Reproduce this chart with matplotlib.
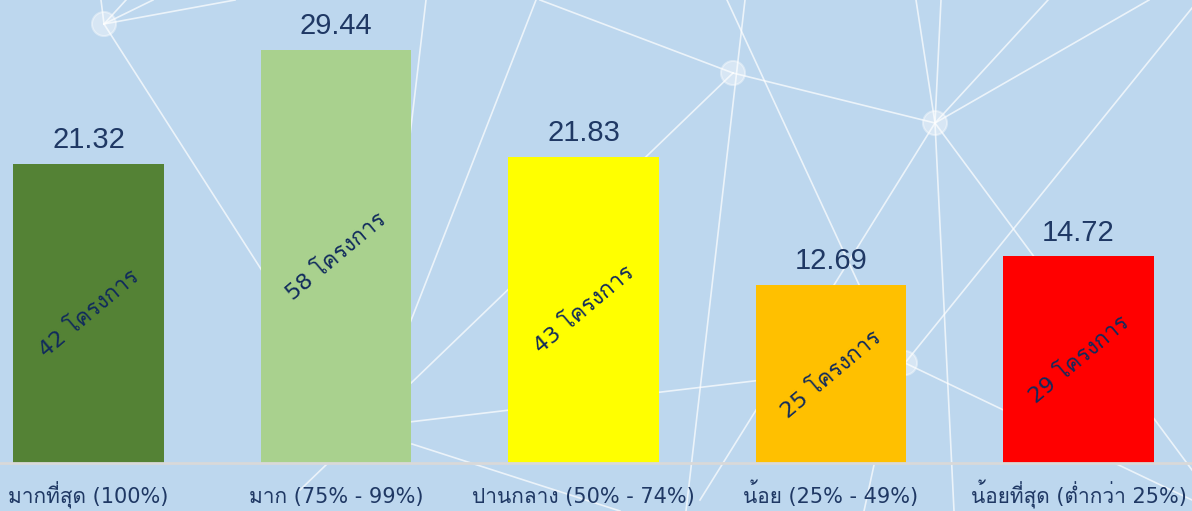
import matplotlib
matplotlib.use("Agg")
import matplotlib.pyplot as plt
from matplotlib import font_manager
from matplotlib.ft2font import FT2Font
from matplotlib.lines import Line2D
from matplotlib.patches import Circle

# data
categories = ["มากที่สุด (100%)", "มาก (75% - 99%)", "ปานกลาง (50% - 74%)",
              "น้อย (25% - 49%)", "น้อยที่สุด (ต่ำกว่า 25%)"]
values = [21.32, 29.44, 21.83, 12.69, 14.72]
projects = [42, 58, 43, 25, 29]
colors = ["#548235", "#a9d18e", "#ffff00", "#ffc000", "#ff0000"]

bg = "#bdd7ee"
navy = "#1f3864"


def find_thai_font():
    for f in font_manager.fontManager.ttflist:
        try:
            if 0x0E42 in FT2Font(f.fname).get_charmap():
                return f.name
        except Exception:
            pass
    return None


names = {f.name for f in font_manager.fontManager.ttflist}
thai = find_thai_font()
num_font = "Liberation Sans Narrow" if "Liberation Sans Narrow" in names else "Liberation Sans"
text_fam = ["DejaVu Sans"] + ([thai] if thai else [])
num_fam = [num_font] + ([thai] if thai else [])

W, H = 1192, 511
fig = plt.figure(figsize=(W / 100, H / 100), dpi=100, facecolor=bg)
ax = fig.add_axes([0, 48 / H, 1, 463 / H])
ax.patch.set_visible(False)

# background network decoration (pixel coords, y from top)
nodes = [(104, 24), (733, 73), (935, 123), (905, 363)]
segs = [
    ((104, 24), (101, 0)), ((104, 24), (126, 0)), ((104, 24), (153, 0)),
    ((104, 24), (235, 0)), ((104, 24), (300, 330)),
    ((426, 0), (400, 220)), ((536, 0), (380, 400)),
    ((540, 0), (733, 73)), ((733, 73), (935, 123)), ((733, 73), (300, 490)),
    ((745, 0), (686, 511)), ((727, 0), (880, 330)),
    ((935, 123), (916, 0)), ((935, 123), (941, 0)), ((935, 123), (1048, 0)),
    ((935, 123), (1149, 0)), ((935, 123), (700, 500)), ((935, 123), (954, 511)),
    ((935, 123), (1192, 470)), ((1192, 8), (905, 363)),
    ((905, 363), (300, 435)), ((905, 363), (1192, 500)),
    ((412, 444), (620, 511)), ((874, 465), (864, 511)),
]
for (x0, y0), (x1, y1) in segs:
    fig.add_artist(Line2D([x0 / W, x1 / W], [1 - y0 / H, 1 - y1 / H],
                          transform=fig.transFigure, color="white",
                          lw=1.2, alpha=0.7, zorder=-2))
for x, y in nodes:
    fig.add_artist(Circle((x, H - y), 12, transform=None, facecolor="white",
                          edgecolor="white", alpha=0.4, lw=1.5, zorder=-1))

x = range(len(categories))
bars = ax.bar(x, values, width=0.61, color=colors, zorder=2)

ax.set_xlim(-0.3576, 4.4586)
ax.set_ylim(0, 33.0)

ax.bar_label(bars, fmt="%.2f", padding=7, fontsize=21, color=navy, family=num_fam)
ax.bar_label(bars, labels=[f"{n} โครงการ" for n in projects], label_type="center",
             rotation=40, fontsize=16, color="#102a5c", family=text_fam)

ax.set_xticks(list(x))
ax.set_xticklabels(categories, fontsize=15, color=navy, family=text_fam, va="baseline")
ax.tick_params(axis="x", length=0, pad=29)
ax.set_yticks([])
for s in ["top", "left", "right"]:
    ax.spines[s].set_visible(False)
ax.spines["bottom"].set_color("#d9d9d9")
ax.spines["bottom"].set_linewidth(2)

fig.savefig("out.png", dpi=100, facecolor=bg)
